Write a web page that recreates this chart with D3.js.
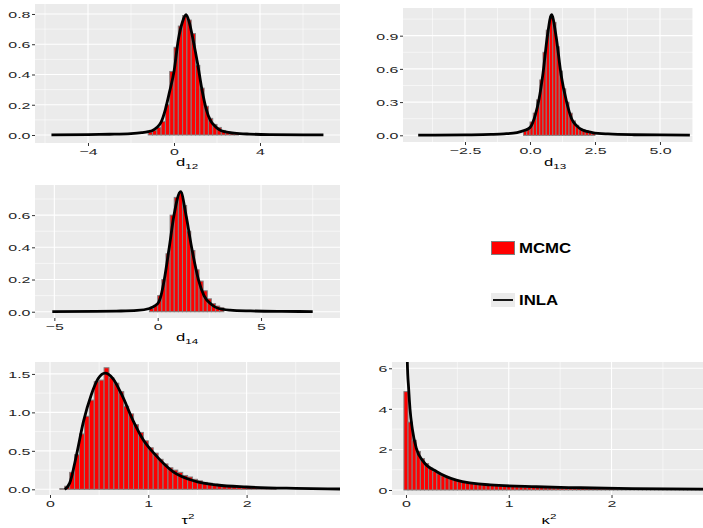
<!DOCTYPE html>
<html>
<head>
<meta charset="utf-8">
<script src="https://cdn.jsdelivr.net/npm/d3@7"></script>
<style>
body { margin: 0; background: #fff; }
svg { display: block; }
text { font-family: "Liberation Sans", Arial, sans-serif; }
</style>
</head>
<body>
<div id="chart"></div>
<script>
// ---- data ----
// d12
const d12BinStart = -1.2, d12BinWidth = 0.2;
const d12Hist = [0.02, 0.03, 0.05, 0.09, 0.2, 0.42, 0.58, 0.72, 0.79, 0.76, 0.67, 0.46, 0.31, 0.19, 0.11, 0.07, 0.05, 0.03, 0.02, 0.015, 0.01];
const d12CurveX = [-5.7, -4, -3, -2, -1.5, -1.2, -1.0, -0.8, -0.6, -0.4, -0.2, 0, 0.2, 0.4, 0.56, 0.7, 0.9, 1.1, 1.3, 1.5, 1.7, 1.9, 2.1, 2.4, 2.8, 3.5, 4.5, 6.95];
const d12CurveY = [0.001, 0.003, 0.005, 0.009, 0.015, 0.022, 0.03, 0.05, 0.085, 0.17, 0.29, 0.42, 0.63, 0.75, 0.795, 0.75, 0.62, 0.47, 0.30, 0.17, 0.095, 0.06, 0.035, 0.02, 0.012, 0.006, 0.003, 0.001];

// d13
const d13BinStart = -0.25, d13BinWidth = 0.125;
const d13Hist = [0.04, 0.06, 0.12, 0.2, 0.32, 0.5, 0.75, 0.95, 1.07, 1.02, 0.8, 0.58, 0.42, 0.3, 0.2, 0.13, 0.09, 0.06, 0.05, 0.04, 0.03, 0.02];
const d13CurveX = [-4.3, -2.5, -1.5, -1.0, -0.5, -0.2, 0.0, 0.2, 0.35, 0.5, 0.67, 0.83, 1.0, 1.2, 1.4, 1.6, 1.8, 2.0, 2.4, 3.0, 4.0, 5.0, 6.15];
const d13CurveY = [0.001, 0.004, 0.008, 0.013, 0.025, 0.045, 0.07, 0.18, 0.33, 0.56, 0.9, 1.09, 0.9, 0.54, 0.31, 0.15, 0.085, 0.05, 0.025, 0.012, 0.005, 0.003, 0.001];

// d14
const d14BinStart = -0.4, d14BinWidth = 0.2;
const d14Hist = [0.02, 0.04, 0.1, 0.2, 0.36, 0.6, 0.71, 0.74, 0.66, 0.5, 0.38, 0.26, 0.19, 0.13, 0.08, 0.05, 0.035, 0.025];
const d14CurveX = [-5.1, -3, -2, -1, -0.4, 0.0, 0.16, 0.32, 0.56, 0.79, 1.11, 1.37, 1.64, 1.97, 2.24, 2.6, 2.95, 3.5, 4.5, 6, 7.5];
const d14CurveY = [0.001, 0.002, 0.004, 0.008, 0.02, 0.05, 0.1, 0.2, 0.4, 0.6, 0.745, 0.6, 0.4, 0.2, 0.1, 0.045, 0.02, 0.01, 0.005, 0.002, 0.001];

// tau^2
const tauBinStart = 0.1, tauBinWidth = 0.05;
const tauHist = [0.01, 0.04, 0.22, 0.45, 0.72, 0.95, 1.16, 1.40, 1.42, 1.58,
                 1.45, 1.38, 1.27, 1.08, 0.98, 0.84, 0.74, 0.63, 0.54, 0.47,
                 0.39, 0.33, 0.28, 0.25, 0.22, 0.18, 0.16, 0.13, 0.11, 0.09,
                 0.08, 0.065, 0.055, 0.05, 0.045, 0.04, 0.035, 0.03, 0.028, 0.025,
                 0.02, 0.018, 0.015, 0.01];
const tauCurveX = [0.15, 0.2, 0.27, 0.34, 0.42, 0.49, 0.56, 0.64, 0.73, 0.85, 0.95, 1.07, 1.25, 1.49, 1.7, 2.0, 2.5, 2.95];
const tauCurveY = [0, 0.08, 0.45, 0.88, 1.23, 1.44, 1.51, 1.44, 1.23, 0.88, 0.64, 0.45, 0.23, 0.1, 0.056, 0.03, 0.012, 0.004];

// kappa^2
const kapBinStart = -0.02, kapBinWidth = 0.04;
const kapHist = [4.85, 3.35, 2.45, 1.9, 1.55, 1.3, 1.08, 0.92, 0.8, 0.7,
                 0.62, 0.55, 0.5, 0.45, 0.41, 0.37, 0.34, 0.31, 0.29, 0.27,
                 0.25, 0.23, 0.22, 0.2, 0.19, 0.18, 0.17, 0.16, 0.15, 0.14,
                 0.14, 0.13, 0.12, 0.12, 0.11, 0.11, 0.1, 0.1, 0.09, 0.09,
                 0.09, 0.08, 0.08, 0.08, 0.07, 0.07, 0.07, 0.07, 0.06, 0.06,
                 0.06, 0.06, 0.05, 0.05, 0.05, 0.05, 0.05, 0.04, 0.04, 0.04,
                 0.04, 0.04, 0.04, 0.03, 0.03, 0.03, 0.03, 0.03, 0.03, 0.03,
                 0.03, 0.03, 0.03];
const kapCurveX = [0.006, 0.013, 0.026, 0.039, 0.062, 0.10, 0.17, 0.30, 0.49, 0.82, 1.27, 1.7, 2.2, 2.95];
const kapCurveY = [9, 6.3, 5.0, 4.0, 3.0, 2.06, 1.4, 0.9, 0.49, 0.25, 0.16, 0.11, 0.07, 0.04];

// ticks
const d12XTicks = [-4, 0, 4], d12XLabels = ["\u22124", "0", "4"], d12XMinor = [-6, -2, 2, 6];
const d12YTicks = [0, 0.2, 0.4, 0.6, 0.8], d12YLabels = ["0.0", "0.2", "0.4", "0.6", "0.8"], d12YMinor = [0.1, 0.3, 0.5, 0.7];
const d13XTicks = [-2.5, 0, 2.5, 5], d13XLabels = ["\u22122.5", "0.0", "2.5", "5.0"], d13XMinor = [-3.75, -1.25, 1.25, 3.75, 6.25];
const d13YTicks = [0, 0.3, 0.6, 0.9], d13YLabels = ["0.0", "0.3", "0.6", "0.9"], d13YMinor = [0.15, 0.45, 0.75, 1.05];
const d14XTicks = [-5, 0, 5], d14XLabels = ["\u22125", "0", "5"], d14XMinor = [-2.5, 2.5, 7.5];
const d14YTicks = [0, 0.2, 0.4, 0.6], d14YLabels = ["0.0", "0.2", "0.4", "0.6"], d14YMinor = [0.1, 0.3, 0.5, 0.7];
const tauXTicks = [0, 1, 2], tauXLabels = ["0", "1", "2"], tauXMinor = [0.5, 1.5, 2.5];
const tauYTicks = [0, 0.5, 1, 1.5], tauYLabels = ["0.0", "0.5", "1.0", "1.5"], tauYMinor = [0.25, 0.75, 1.25];
const kapXTicks = [0, 1, 2], kapXLabels = ["0", "1", "2"], kapXMinor = [0.5, 1.5, 2.5];
const kapYTicks = [0, 2, 4, 6], kapYLabels = ["0", "2", "4", "6"], kapYMinor = [1, 3, 5];

const legendLabels = ["MCMC", "INLA"];

// ---- drawing ----
const W = 703, H = 528;
const SX = 1.7; // text in the picture is stretched horizontally

const svg = d3.select("#chart").append("svg")
    .attr("width", W)
    .attr("height", H);

function drawPanel(p, id) {
    let x = d3.scaleLinear().domain(p.xDomain).range([p.left, p.right]);
    let y = d3.scaleLinear().domain(p.yDomain).range([p.bottom, p.top]);
    let g = svg.append("g");

    g.append("rect")
        .attr("x", p.left).attr("y", p.top)
        .attr("width", p.right - p.left).attr("height", p.bottom - p.top)
        .attr("fill", "#EBEBEB");

    // grid
    g.selectAll(".vminor").data(p.xMinor).enter().append("line")
        .attr("x1", d => x(d)).attr("x2", d => x(d))
        .attr("y1", p.top).attr("y2", p.bottom)
        .attr("stroke", "#fff").attr("stroke-width", 0.55);
    g.selectAll(".hminor").data(p.yMinor).enter().append("line")
        .attr("y1", d => y(d)).attr("y2", d => y(d))
        .attr("x1", p.left).attr("x2", p.right)
        .attr("stroke", "#fff").attr("stroke-width", 0.55);
    g.selectAll(".vmajor").data(p.xTicks).enter().append("line")
        .attr("x1", d => x(d)).attr("x2", d => x(d))
        .attr("y1", p.top).attr("y2", p.bottom)
        .attr("stroke", "#fff").attr("stroke-width", 1.1);
    g.selectAll(".hmajor").data(p.yTicks).enter().append("line")
        .attr("y1", d => y(d)).attr("y2", d => y(d))
        .attr("x1", p.left).attr("x2", p.right)
        .attr("stroke", "#fff").attr("stroke-width", 1.1);

    svg.append("clipPath").attr("id", "clip" + id)
        .append("rect")
        .attr("x", p.left).attr("y", p.top)
        .attr("width", p.right - p.left).attr("height", p.bottom - p.top);
    let inner = g.append("g").attr("clip-path", `url(#clip${id})`);

    // histogram
    inner.selectAll(".bar").data(p.hist).enter().append("rect")
        .attr("x", (d, i) => x(p.binStart + i * p.binWidth))
        .attr("width", (d, i) => x(p.binStart + (i + 1) * p.binWidth) - x(p.binStart + i * p.binWidth))
        .attr("y", d => y(d))
        .attr("height", d => y(0) - y(d))
        .attr("fill", "red")
        .attr("stroke", "#808080")
        .attr("stroke-width", 1);

    // density curve
    let pts = p.curveX.map((v, i) => [v, p.curveY[i]]);
    let line = d3.line()
        .x(d => x(d[0]))
        .y(d => y(d[1]))
        .curve(d3.curveMonotoneX);
    inner.append("path")
        .datum(pts)
        .attr("d", line)
        .attr("fill", "none")
        .attr("stroke", "#000")
        .attr("stroke-width", 2.8)
        .attr("stroke-linejoin", "round");

    // axes
    let ay = g.append("g")
        .attr("transform", `translate(${p.left},0)`)
        .call(d3.axisLeft(y).tickValues(p.yTicks).tickSize(3).tickFormat((d, i) => p.yLabels[i]));
    ay.select(".domain").remove();
    ay.selectAll("line").attr("stroke", "#333");
    ay.selectAll("text")
        .attr("x", null).attr("dy", null)
        .attr("transform", `translate(-4.5,3.4) scale(${SX},1)`)
        .attr("fill", "#262626")
        .style("font-size", "9.4px");

    let ax = g.append("g")
        .attr("transform", `translate(0,${p.bottom})`)
        .call(d3.axisBottom(x).tickValues(p.xTicks).tickSize(3).tickFormat((d, i) => p.xLabels[i]));
    ax.select(".domain").remove();
    ax.selectAll("line").attr("stroke", "#333");
    ax.selectAll("text")
        .attr("y", null).attr("dy", null)
        .attr("transform", `translate(0,11.5) scale(${SX},1)`)
        .attr("fill", "#262626")
        .style("font-size", "9.4px");

    // axis title
    let t = svg.append("text")
        .attr("text-anchor", "middle")
        .attr("transform", `translate(${p.titleX},${p.titleY}) scale(1.45,1)`)
        .style("font-size", "11.5px")
        .attr("fill", "#000");
    t.append("tspan").text(p.title);
    t.append("tspan")
        .attr("dy", p.titleSup ? -5 : 2.5)
        .style("font-size", "8px")
        .text(p.titleIdx);
}

const panels = [
    {left: 35, right: 340, top: 4, bottom: 143, xDomain: [-6.465, 7.72], yDomain: [-0.0529, 0.866],
     hist: d12Hist, binStart: d12BinStart, binWidth: d12BinWidth, curveX: d12CurveX, curveY: d12CurveY,
     xTicks: d12XTicks, xLabels: d12XLabels, xMinor: d12XMinor, yTicks: d12YTicks, yLabels: d12YLabels, yMinor: d12YMinor,
     title: "d", titleIdx: "12", titleSup: false, titleX: 187, titleY: 166},
    {left: 403, right: 693, top: 8, bottom: 142, xDomain: [-4.885, 6.27], yDomain: [-0.0605, 1.15],
     hist: d13Hist, binStart: d13BinStart, binWidth: d13BinWidth, curveX: d13CurveX, curveY: d13CurveY,
     xTicks: d13XTicks, xLabels: d13XLabels, xMinor: d13XMinor, yTicks: d13YTicks, yLabels: d13YLabels, yMinor: d13YMinor,
     title: "d", titleIdx: "13", titleSup: false, titleX: 555, titleY: 166},
    {left: 35, right: 340, top: 185, bottom: 318, xDomain: [-5.936, 8.82], yDomain: [-0.039, 0.787],
     hist: d14Hist, binStart: d14BinStart, binWidth: d14BinWidth, curveX: d14CurveX, curveY: d14CurveY,
     xTicks: d14XTicks, xLabels: d14XLabels, xMinor: d14XMinor, yTicks: d14YTicks, yLabels: d14YLabels, yMinor: d14YMinor,
     title: "d", titleIdx: "14", titleSup: false, titleX: 187, titleY: 341},
    {left: 35, right: 340, top: 362, bottom: 495, xDomain: [-0.1526, 2.95], yDomain: [-0.0741, 1.655],
     hist: tauHist, binStart: tauBinStart, binWidth: tauBinWidth, curveX: tauCurveX, curveY: tauCurveY,
     xTicks: tauXTicks, xLabels: tauXLabels, xMinor: tauXMinor, yTicks: tauYTicks, yLabels: tauYLabels, yMinor: tauYMinor,
     title: "\u03c4", titleIdx: "2", titleSup: true, titleX: 188, titleY: 524},
    {left: 392, right: 703, top: 362, bottom: 495, xDomain: [-0.136, 2.89], yDomain: [-0.2465, 6.31],
     hist: kapHist, binStart: kapBinStart, binWidth: kapBinWidth, curveX: kapCurveX, curveY: kapCurveY,
     xTicks: kapXTicks, xLabels: kapXLabels, xMinor: kapXMinor, yTicks: kapYTicks, yLabels: kapYLabels, yMinor: kapYMinor,
     title: "\u03ba", titleIdx: "2", titleSup: true, titleX: 549, titleY: 524}
];

panels.forEach((p, i) => drawPanel(p, i));

// legend
let legend = svg.append("g");
legend.append("rect")
    .attr("x", 491.5).attr("y", 241.5).attr("width", 23).attr("height", 13)
    .attr("fill", "red").attr("stroke", "#7f7f7f").attr("stroke-width", 1);
legend.append("rect")
    .attr("x", 491).attr("y", 293).attr("width", 24).attr("height", 14)
    .attr("fill", "#EBEBEB");
legend.append("line")
    .attr("x1", 493).attr("x2", 513).attr("y1", 300).attr("y2", 300)
    .attr("stroke", "#000").attr("stroke-width", 1.8);
legend.selectAll(".lab").data(legendLabels).enter().append("text")
    .attr("transform", (d, i) => `translate(519,${i === 0 ? 253.3 : 305}) scale(1.2,1)`)
    .style("font-size", "14px")
    .style("font-weight", "bold")
    .attr("fill", "#000")
    .text(d => d);
</script>
</body>
</html>
